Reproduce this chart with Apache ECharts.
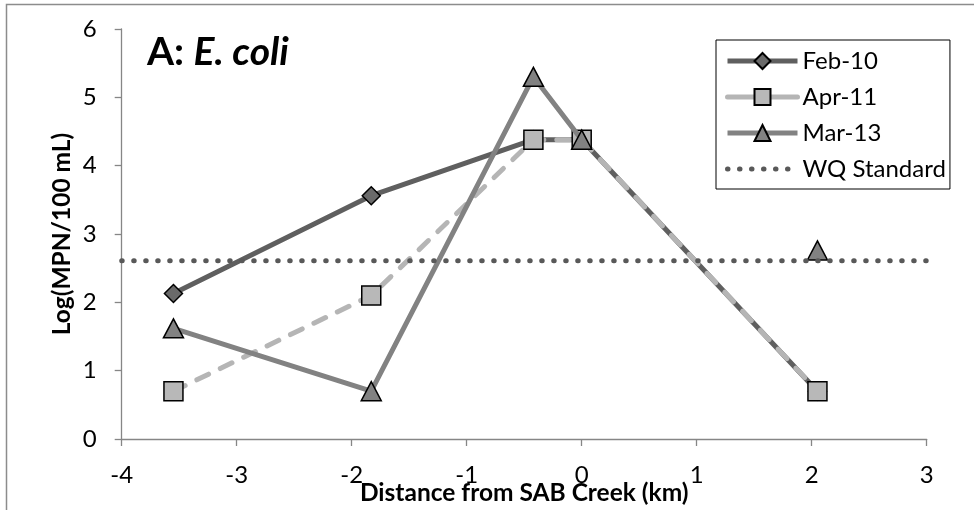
<!DOCTYPE html>
<html>
<head>
<meta charset="utf-8">
<script src="https://cdn.jsdelivr.net/npm/echarts@6/dist/echarts.min.js"></script>
<style>
  html, body { margin: 0; padding: 0; background: #fff; }
  #chart { width: 974px; height: 510px; }
</style>
</head>
<body>
<div id="chart"></div>
<script>
// Sampling sites: distance from SAB Creek (km)
const distanceKm = [-3.55, -1.83, -0.42, 0, 2.05];

// Log(MPN/100 mL) for each sampling campaign
const feb10 = [2.13, 3.56, 4.38, 4.38, 0.70];
const apr11 = [0.70, 2.10, 4.38, 4.38, 0.70];
const mar13 = [1.62, 0.70, 5.30, 4.38, 2.76];
// Mar-13 line is not drawn after this index (isolated last sample)
const mar13BreakAfter = 3;

// Water-quality standard, log scale
const wqStandard = 2.61;

const xTicks = [-4, -3, -2, -1, 0, 1, 2, 3];
const yTicks = [0, 1, 2, 3, 4, 5, 6];

const FONT = 'Lato, "Open Sans", sans-serif';

function pairs(ys, breakAfter) {
  const out = [];
  ys.forEach((y, i) => {
    out.push([distanceKm[i], y]);
    if (i === breakAfter) out.push(['-', '-']);
  });
  return out;
}

const chart = echarts.init(document.getElementById('chart'), null, { renderer: 'canvas' });

const axisGray = '#868686';
const LW = 5;

const febStyle = { color: '#5f5f5f', width: LW };
const aprStyle = { color: '#b5b5b5', width: LW, type: [13, 13], cap: 'round' };
const marStyle = { color: '#828282', width: LW };
const wqStyle = { color: '#595959', width: 5, type: [0.5, 11.5], cap: 'round' };

chart.setOption({
  backgroundColor: '#ffffff',
  animation: false,
  grid: { left: 121.7, right: 47.3, top: 29, bottom: 71, containLabel: false, outerBoundsMode: 'none' },
  graphic: [
    {
      type: 'rect',
      shape: { x: 6.5, y: 4.5, width: 990, height: 540 },
      style: { fill: 'none', stroke: '#8c8c8c', lineWidth: 1.5 },
      silent: true
    },
    {
      type: 'text',
      left: 147,
      top: 33,
      style: {
        text: '{a|A: }{b|E. coli}',
        rich: {
          a: { fontFamily: FONT, fontWeight: 'bold', fontSize: 39, fill: '#000' },
          b: { fontFamily: FONT, fontWeight: 'bold', fontStyle: 'italic', fontSize: 39, fill: '#000' }
        }
      }
    }
  ],
  legend: {
    orient: 'vertical',
    left: 716,
    top: 40,
    padding: [9, 4, 8, 9],
    itemGap: 12,
    itemWidth: 70,
    itemHeight: 20,
    borderColor: '#000',
    borderWidth: 1,
    backgroundColor: '#fff',
    textStyle: { fontFamily: FONT, fontSize: 24, color: '#000' },
    data: [
      { name: 'Feb-10', lineStyle: febStyle },
      { name: 'Apr-11', lineStyle: { color: '#b5b5b5', width: LW, type: 'solid' } },
      { name: 'Mar-13', lineStyle: marStyle },
      { name: 'WQ Standard', lineStyle: wqStyle, itemStyle: { color: 'rgba(0,0,0,0)', borderWidth: 0 } }
    ]
  },
  xAxis: {
    type: 'value',
    min: xTicks[0],
    max: xTicks[xTicks.length - 1],
    interval: 1,
    name: 'Distance from SAB Creek (km)',
    nameLocation: 'middle',
    nameGap: 54,
    nameMoveOverlap: false,
    nameTextStyle: { fontFamily: FONT, fontWeight: 'bold', fontSize: 24.5, color: '#000', verticalAlign: 'middle' },
    axisLine: { show: true, onZero: false, lineStyle: { color: axisGray, width: 1.3 } },
    axisTick: { show: true, length: 7, inside: false, lineStyle: { color: axisGray, width: 1.3 } },
    axisLabel: { fontFamily: FONT, fontSize: 24, color: '#000', margin: 36, verticalAlign: 'middle' },
    splitLine: { show: false }
  },
  yAxis: {
    type: 'value',
    min: yTicks[0],
    max: yTicks[yTicks.length - 1],
    interval: 1,
    name: 'Log(MPN/100 mL)',
    nameLocation: 'middle',
    nameGap: 60,
    nameRotate: 90,
    nameMoveOverlap: false,
    nameTextStyle: { fontFamily: FONT, fontWeight: 'bold', fontSize: 24.5, color: '#000', verticalAlign: 'middle' },
    axisLine: { show: true, onZero: false, lineStyle: { color: axisGray, width: 1.3 } },
    axisTick: { show: true, length: 7, lineStyle: { color: axisGray, width: 1.3 } },
    axisLabel: { fontFamily: FONT, fontSize: 24, color: '#000', margin: 25 },
    splitLine: { show: false }
  },
  series: [
    {
      name: 'Feb-10',
      type: 'line',
      data: pairs(feb10, -1),
      symbol: 'diamond',
      symbolSize: 18,
      showAllSymbol: true,
      lineStyle: febStyle,
      itemStyle: { color: '#6a6a6a', borderColor: '#000', borderWidth: 1.5 },
      z: 2
    },
    {
      name: 'Apr-11',
      type: 'line',
      data: pairs(apr11, -1),
      symbol: 'rect',
      symbolSize: 19,
      showAllSymbol: true,
      lineStyle: aprStyle,
      itemStyle: { color: '#b8b8b8', borderColor: '#000', borderWidth: 1.5 },
      z: 3
    },
    {
      name: 'Mar-13',
      type: 'line',
      data: pairs(mar13, mar13BreakAfter),
      connectNulls: false,
      symbol: 'triangle',
      symbolSize: [20, 19],
      showAllSymbol: true,
      lineStyle: marStyle,
      itemStyle: { color: '#828282', borderColor: '#000', borderWidth: 1.5 },
      z: 4
    },
    {
      name: 'WQ Standard',
      type: 'line',
      data: [[xTicks[0], wqStandard], [xTicks[xTicks.length - 1], wqStandard]],
      symbol: 'none',
      lineStyle: wqStyle,
      itemStyle: { color: '#595959' },
      z: 5
    }
  ]
});
</script>
</body>
</html>
